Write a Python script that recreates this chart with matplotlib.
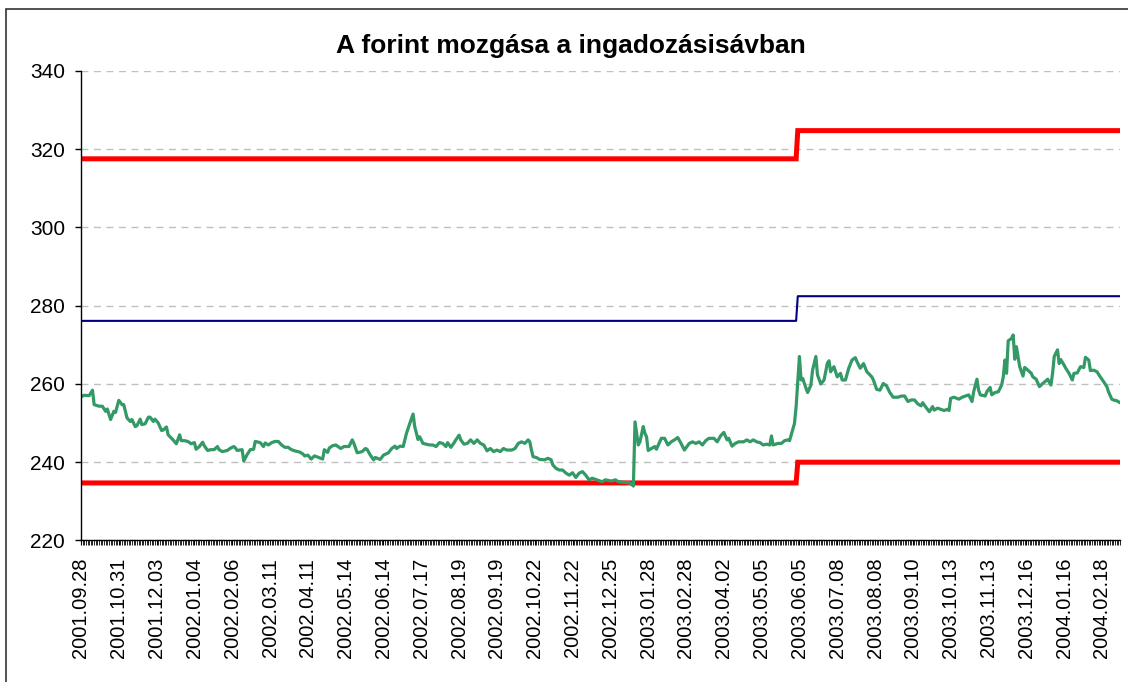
import numpy as np
import matplotlib
matplotlib.use("Agg")
from matplotlib import pyplot as plt

plt.rcParams["font.family"] = ["Liberation Sans", "DejaVu Sans"]

# category axis: one category per trading day, labels every 23 days
n_days = 633
label_step = 23
tick_labels = [
    "2001.09.28", "2001.10.31", "2001.12.03", "2002.01.04", "2002.02.06",
    "2002.03.11", "2002.04.11", "2002.05.14", "2002.06.14", "2002.07.17",
    "2002.08.19", "2002.09.19", "2002.10.22", "2002.11.22", "2002.12.25",
    "2003.01.28", "2003.02.28", "2003.04.02", "2003.05.05", "2003.06.05",
    "2003.07.08", "2003.08.08", "2003.09.10", "2003.10.13", "2003.11.13",
    "2003.12.16", "2004.01.16", "2004.02.18",
]

# band edges and central parity (step after the june 2003 devaluation)
band_day = [0, 435, 436, 632]
upper_band = [317.5, 317.5, 324.7, 324.7]
central = [276.1, 276.1, 282.4, 282.4]
lower_band = [234.7, 234.7, 240.0, 240.0]

# EUR/HUF rate (day index, rate)
rate_day = [
    0, 2, 5, 7, 8, 11, 13, 15, 16, 18, 20, 21, 23, 25, 26, 28, 30, 31, 33, 34,
    36, 37, 39, 41, 42, 44, 45, 47, 49, 50, 52, 53, 56, 58, 60, 61, 63, 65, 67, 69,
    70, 72, 74, 75, 77, 79, 81, 83, 84, 86, 89, 91, 93, 94, 95, 98, 99, 101, 103, 105,
    106, 109, 111, 112, 114, 116, 118, 120, 122, 124, 126, 128, 130, 133, 135, 136, 138, 140, 142, 144,
    147, 148, 150, 151, 153, 155,
    158, 160, 163, 165, 166, 168, 171, 173, 174, 176, 178, 179, 182, 184, 187, 189, 191, 192, 194, 196,
    198, 200, 202, 203, 205, 206, 208, 212, 214, 216, 218, 220, 222, 223, 225, 227, 228, 230, 231, 233,
    235, 237, 239, 241, 243, 245, 247, 249, 251, 253, 255, 257, 259, 262, 264, 266, 268, 270, 272, 273,
    274, 275, 277, 279, 282, 284, 286, 287, 289, 291, 293, 295, 297, 299, 301, 303, 305, 307, 309, 311,
    313, 315, 317, 319, 321, 323, 325, 327, 329, 332, 334, 336, 337,
    339, 340, 342, 343, 344, 345, 347, 349, 350, 353, 355, 357, 359, 361, 363, 365, 367, 370, 372, 374,
    376, 378, 380, 382, 385, 387, 389, 391, 393, 394, 396, 398, 400, 403, 405, 407, 409, 411, 413, 415,
    417, 419, 420, 421, 424, 426, 428, 430, 431, 433, 434, 435, 437, 438, 439, 441, 442, 444, 445, 447,
    448, 450, 452, 454, 455, 456, 458, 460, 462, 463, 465, 467, 469, 471, 472, 474, 476, 478, 479, 481,
    482, 484, 486, 488, 490, 492,
    494, 497, 499, 501, 503, 505, 507, 509, 511, 512, 514, 516, 518, 519, 521, 523, 525, 527, 528, 529,
    531, 534, 536, 538, 540, 542, 543, 545, 546, 547, 550, 551, 553, 554, 556, 558, 560, 561, 562, 563,
    564, 566, 567, 568, 569, 570, 571, 573, 574, 576, 578, 579, 581, 583, 585, 587, 588, 590, 591, 592,
    594, 595, 596, 598, 599, 601, 603, 604, 606, 608, 610, 611, 613, 614, 616, 618, 620, 622, 624, 625,
    627, 628, 630, 632,
]
rate = [
    256.7, 257.1, 257.0, 258.4, 254.7, 254.3, 254.3, 253.0, 253.6, 250.9, 253.0, 252.7, 255.8, 254.7, 254.7, 251.3, 250.4, 250.9, 249.1, 249.3,
    251.0, 249.6, 249.8, 251.5, 251.5, 250.4, 251.0, 250.0, 248.1, 248.2, 249.0, 247.0, 245.7, 244.7, 247.0, 245.5, 245.5, 245.3, 244.7, 245.0,
    243.3, 244.0, 245.1, 244.2, 243.0, 243.2, 243.2, 244.0, 243.2, 242.7, 243.0, 243.6, 244.0, 243.6, 243.0, 243.2, 240.3, 241.9, 243.2, 243.3,
    245.3, 245.0, 244.0, 244.9, 244.4, 245.0, 245.3, 245.3, 244.4, 243.8, 243.8, 243.2, 242.9, 242.6, 242.1, 241.6, 241.8, 240.8, 241.6, 241.3,
    240.8, 243.2, 242.5, 243.6, 244.2, 244.4,
    243.5, 244.0, 244.0, 245.7, 244.8, 242.4, 242.7, 243.5, 243.3, 241.8, 240.6, 241.2, 240.7, 241.8, 242.4, 243.5, 244.1, 243.5, 244.1, 244.0,
    247.4, 249.9, 252.3, 249.1, 245.8, 246.5, 244.8, 244.4, 244.4, 244.0, 245.0, 244.8, 244.0, 245.0, 243.8, 245.0, 245.7, 246.9, 245.7, 244.6,
    244.8, 245.7, 244.8, 245.7, 244.8, 244.4, 242.9, 243.5, 242.7, 243.1, 242.7, 243.5, 243.1, 243.1, 243.5, 244.8, 245.2, 244.8, 245.7, 245.2,
    243.1, 241.4, 241.2, 240.7, 240.6, 241.0, 240.6, 239.3, 238.4, 238.0, 238.0, 237.2, 236.7, 237.3, 236.1, 237.2, 237.6, 236.7, 235.5, 235.9,
    235.6, 235.3, 235.0, 235.5, 235.3, 235.2, 235.5, 235.0, 234.9, 234.8, 234.7, 233.9, 250.3,
    244.4, 245.2, 249.1, 247.4, 246.5, 243.0, 243.5, 244.0, 243.3, 246.1, 246.1, 244.4, 245.2, 245.7, 246.3, 244.8, 243.1, 244.8, 245.2, 244.8,
    245.2, 244.4, 245.5, 246.1, 246.1, 245.2, 246.7, 247.6, 245.7, 246.1, 244.1, 244.8, 245.2, 245.2, 245.7, 245.2, 245.7, 245.2, 245.0, 244.4,
    244.6, 244.4, 246.7, 244.4, 244.8, 244.8, 245.5, 245.7, 245.5, 248.4, 249.9, 254.2, 267.0, 261.0, 261.4, 258.9, 257.8, 259.7, 263.5, 267.0,
    262.3, 260.0, 261.0, 265.3, 265.9, 263.1, 264.4, 261.8, 262.7, 261.0, 261.0, 264.0, 266.1, 266.7, 265.7, 264.0, 265.2, 263.1, 262.7, 261.8,
    261.0, 258.6, 258.4, 260.1, 259.5, 257.8,
    256.6, 256.6, 256.9, 256.9, 255.5, 255.9, 255.9, 254.9, 254.4, 255.2, 254.0, 252.9, 254.2, 253.3, 253.8, 253.5, 253.2, 253.5, 253.2, 256.3,
    256.6, 256.1, 256.6, 256.9, 257.2, 255.5, 258.0, 261.2, 258.4, 257.2, 256.9, 258.0, 259.1, 257.2, 257.8, 258.0, 259.7, 261.8, 266.1, 262.7,
    271.0, 271.6, 272.5, 266.3, 269.5, 266.9, 264.4, 262.0, 264.2, 263.5, 262.7, 261.8, 261.2, 259.3, 260.1, 260.8, 261.2, 259.7, 262.7, 267.0,
    268.7, 265.2, 266.2, 264.8, 264.0, 262.7, 261.0, 262.7, 262.8, 264.4, 264.2, 266.8, 266.1, 263.4, 263.5, 263.1, 261.8, 260.6, 259.3, 258.0,
    256.1, 255.9, 255.7, 255.2,
]

fig = plt.figure(figsize=(11.28, 6.82), dpi=100)
ax = fig.add_axes([0.0718, 0.2075, 0.9211, 0.6888])

# outer chart border (right and bottom fall outside the picture)
fig.patches.append(plt.Rectangle((6 / 1128, -0.1), 2, 1.1 - 9 / 682,
                                 transform=fig.transFigure, fill=False,
                                 edgecolor="#333333", linewidth=1.2))

ax.plot(band_day, upper_band, color="#FF0000", linewidth=3.6, solid_joinstyle="miter")
ax.plot(band_day, lower_band, color="#FF0000", linewidth=3.6, solid_joinstyle="miter")
ax.plot(band_day, central, color="#000080", linewidth=1.5)
ax.plot(rate_day, rate, color="#339966", linewidth=2.3)

ax.set_xlim(0, n_days - 1)
ax.set_ylim(220, 340)
ax.set_yticks(range(220, 341, 20))
ax.set_xticks(range(0, len(tick_labels) * label_step, label_step))
ax.set_xticklabels(tick_labels, rotation=90)
ax.set_xticks(range(n_days), minor=True)

ax.grid(axis="y", color="#C0C0C0", linestyle=(0, (5, 4)), linewidth=1.0)
ax.set_axisbelow(True)
for side in ["top", "right"]:
    ax.spines[side].set_visible(False)
for side in ["left", "bottom"]:
    ax.spines[side].set_color("black")
    ax.spines[side].set_linewidth(1.0)

ax.tick_params(axis="y", direction="out", length=4.5, width=1, pad=7, labelsize=15)
ax.tick_params(axis="x", which="major", direction="out", length=3.5, width=0.8, pad=9, labelsize=14.5)
ax.tick_params(axis="x", which="minor", direction="out", length=3.5, width=0.6)

fig.text(0.506, 0.932, "A forint mozgása a ingadozásisávban", ha="center", va="center",
         fontsize=19, fontweight="bold")

fig.savefig("out.png", dpi=100)
